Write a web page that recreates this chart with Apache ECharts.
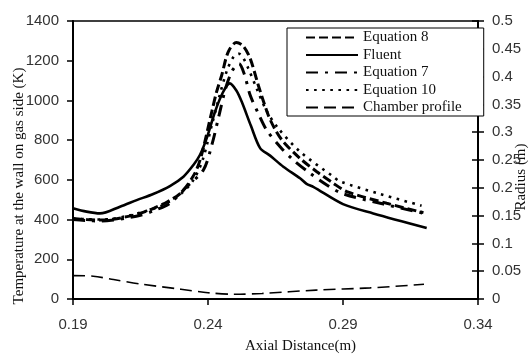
<!DOCTYPE html>
<html>
<head>
<meta charset="utf-8">
<script src="https://cdn.jsdelivr.net/npm/echarts@6/dist/echarts.min.js"></script>
<style>html,body{margin:0;padding:0;background:#fff}#c{width:531px;height:356px}</style>
</head>
<body>
<div id="c"></div>
<script>
// Axial distance (m) / temperature (K) pairs
const eq8X  = [0.19,0.195,0.2,0.205,0.21,0.215,0.22,0.225,0.23,0.235,0.2375,0.2414,0.2432,0.2451,0.2475,0.2505,0.253,0.2556,0.2586,0.2623,0.265,0.2679,0.2741,0.2803,0.2864,0.2914,0.3062,0.3198];
const eq8Y  = [405,400,398,402,415,432,458,490,535,630,720,943,1044,1128,1245,1292,1275,1212,1078,927,850,792,708,641,583,541,482,435];

const fluentX = [0.19,0.195,0.2,0.2074,0.2136,0.2197,0.2259,0.2309,0.2346,0.237,0.2395,0.2426,0.2455,0.2481,0.2505,0.2525,0.2559,0.2593,0.263,0.2679,0.2741,0.2765,0.279,0.29,0.3012,0.321];
const fluentY = [457,440,431,465,498,529,569,616,675,725,809,943,1040,1086,1050,993,872,760,722,666,608,580,565,478,431,358];

const eq7X  = [0.19,0.195,0.2,0.205,0.21,0.215,0.22,0.2259,0.2321,0.2383,0.2415,0.244,0.2465,0.249,0.2515,0.2535,0.2556,0.2586,0.2617,0.2667,0.2716,0.2778,0.284,0.29,0.305,0.3198];
const eq7Y  = [400,395,393,398,408,422,445,482,565,650,780,920,1060,1150,1185,1130,1027,935,851,767,700,633,574,530,478,432];

const eq10X = [0.19,0.195,0.2,0.205,0.21,0.215,0.2228,0.23,0.2346,0.238,0.2415,0.244,0.247,0.2495,0.2515,0.253,0.2549,0.258,0.2616,0.266,0.2741,0.2864,0.2889,0.3037,0.3191];
const eq10Y = [405,402,400,405,418,435,470,530,600,700,880,1010,1150,1220,1235,1215,1162,1061,950,860,742,616,592,529,470];

// Chamber profile: axial distance (m) / radius (m)
const chamberX = [0.19,0.1975,0.205,0.215,0.23,0.24,0.25,0.26,0.28,0.30,0.32];
const chamberY = [0.042,0.041,0.035,0.027,0.0175,0.0113,0.0085,0.010,0.016,0.020,0.0264];

const xTicks = [0.19, 0.34, 0.05];
const tempRange = [0, 1400, 200];
const radiusRange = [0, 0.5, 0.05];

const seriesNames = ['Equation 8','Fluent','Equation 7','Equation 10','Chamber profile'];

function pairs(xs, ys){ return xs.map((x,i)=>[x, ys[i]]); }

const serif = 'Liberation Serif';
const sans = 'Liberation Sans';

const chart = echarts.init(document.getElementById('c'), null, {renderer:'canvas'});
chart.setOption({
  animation:false,
  backgroundColor:'#fff',
  grid:{left:73,right:53,top:21,bottom:57,show:true,borderColor:'#000',borderWidth:1.5,outerBoundsMode:'none',containLabel:false},
  legend:{
    data:seriesNames.map(n=>({name:n})),
    orient:'vertical',
    left:287, top:28,
    padding:[2,22,1,18],
    itemWidth:52, itemHeight:14, itemGap:2.5,
    itemStyle:{opacity:0},
    backgroundColor:'#fff',
    borderColor:'#000', borderWidth:1,
    textStyle:{fontFamily:serif,fontSize:15,color:'#111',lineHeight:15}
  },
  xAxis:{
    type:'value', min:xTicks[0], max:xTicks[1], interval:xTicks[2],
    name:'Axial Distance(m)', nameLocation:'middle', nameGap:40, nameMoveOverlap:false,
    nameTextStyle:{fontFamily:serif,fontSize:15,color:'#111',padding:[0,0,0,50]},
    axisLine:{lineStyle:{color:'#000',width:2}},
    axisTick:{show:true,length:6,lineStyle:{color:'#000',width:1.5}},
    axisLabel:{margin:18,fontFamily:sans,fontSize:15,color:'#333',formatter:v=>v.toFixed(2),showMaxLabel:true},
    splitLine:{show:false}
  },
  yAxis:[{
    type:'value', position:'left', min:tempRange[0], max:tempRange[1], interval:tempRange[2],
    name:'Temperature at the wall on gas side (K)', nameLocation:'middle', nameGap:46, nameRotate:90, nameMoveOverlap:false,
    nameTextStyle:{fontFamily:serif,fontSize:15,color:'#111',padding:[0,52,0,0]},
    axisLine:{show:true,lineStyle:{color:'#000',width:2}},
    axisTick:{show:true,length:6,lineStyle:{color:'#000',width:1.5}},
    axisLabel:{margin:14,fontFamily:sans,fontSize:15,color:'#333',formatter:v=>String(v)},
    splitLine:{show:false}
  },{
    type:'value', position:'right', min:radiusRange[0], max:radiusRange[1], interval:radiusRange[2],
    name:'Radius (m)', nameLocation:'middle', nameGap:36, nameRotate:90, nameMoveOverlap:false,
    nameTextStyle:{fontFamily:serif,fontSize:15,color:'#111',padding:[0,34,0,0]},
    axisLine:{show:true,lineStyle:{color:'#000',width:2}},
    axisTick:{show:true,length:6,lineStyle:{color:'#000',width:1.5}},
    axisLabel:{margin:14,fontFamily:sans,fontSize:15,color:'#333',formatter:v=>String(+v.toFixed(2))},
    splitLine:{show:false}
  },{
    type:'value', position:'right', min:radiusRange[0], max:radiusRange[1], interval:radiusRange[2],
    axisLine:{show:false},
    axisTick:{show:true,inside:true,length:6,lineStyle:{color:'#000',width:1.5}},
    axisLabel:{show:false},
    splitLine:{show:false}
  }],
  series:[
    {name:seriesNames[0],type:'line',yAxisIndex:0,data:pairs(eq8X,eq8Y),smooth:0.3,symbol:'none',
     lineStyle:{color:'#000',width:3,type:[9,4]},itemStyle:{color:'#000'}},
    {name:seriesNames[1],type:'line',yAxisIndex:0,data:pairs(fluentX,fluentY),smooth:0.3,symbol:'none',
     lineStyle:{color:'#000',width:2.6,type:'solid'},itemStyle:{color:'#000'}},
    {name:seriesNames[2],type:'line',yAxisIndex:0,data:pairs(eq7X,eq7Y),smooth:0.3,symbol:'none',
     lineStyle:{color:'#000',width:3,type:[12,7,3,7]},itemStyle:{color:'#000'}},
    {name:seriesNames[3],type:'line',yAxisIndex:0,data:pairs(eq10X,eq10Y),smooth:0.3,symbol:'none',
     lineStyle:{color:'#000',width:2.6,type:[2.6,5.5]},itemStyle:{color:'#000'}},
    {name:seriesNames[4],type:'line',yAxisIndex:1,data:pairs(chamberX,chamberY),smooth:0.3,symbol:'none',
     lineStyle:{color:'#000',width:1.6,type:[12,6]},itemStyle:{color:'#000'}}
  ]
});
</script>
</body>
</html>
